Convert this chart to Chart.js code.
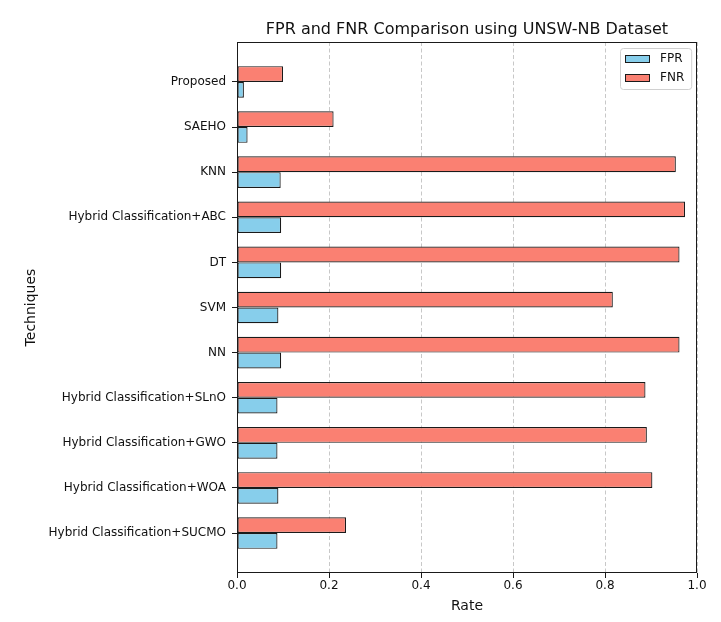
<!DOCTYPE html>
<html>
<head>
<meta charset="utf-8">
<title>FPR and FNR Comparison</title>
<script src="https://cdn.jsdelivr.net/npm/chart.js@4.4.1/dist/chart.umd.min.js"></script>
<style>
    html, body { margin: 0; padding: 0; background: #fff; }
    #wrap { width: 721px; height: 622px; position: relative; }
</style>
</head>
<body>
<div id="wrap"><canvas id="rateChart"></canvas></div>
<script>
// Techniques, top to bottom as in the figure
const techniques = [
    'Proposed',
    'SAEHO',
    'KNN',
    'Hybrid Classification+ABC',
    'DT',
    'SVM',
    'NN',
    'Hybrid Classification+SLnO',
    'Hybrid Classification+GWO',
    'Hybrid Classification+WOA',
    'Hybrid Classification+SUCMO'
];

const fprValues = [0.015, 0.023, 0.095, 0.096, 0.096, 0.090, 0.096, 0.088, 0.088, 0.090, 0.088];
const fnrValues = [0.100, 0.210, 0.954, 0.974, 0.962, 0.817, 0.962, 0.888, 0.891, 0.903, 0.237];

const rateTicks = [0.0, 0.2, 0.4, 0.6, 0.8, 1.0];

const FONT = '"DejaVu Sans", Verdana, sans-serif';
const fprColor = '#87CEEB'; // skyblue
const fnrColor = '#FA8072'; // salmon
const edgeColor = '#1a1a1a';

// bars sit on a linear index axis so the category spacing matches the figure
function toPoints(values) {
    return values.map((v, i) => ({ x: v, y: i }));
}

// box around the plot (all four spines)
const frame = {
    id: 'frame',
    afterDraw(chart) {
        const { ctx, chartArea: a } = chart;
        ctx.save();
        ctx.strokeStyle = edgeColor;
        ctx.lineWidth = 1;
        ctx.strokeRect(Math.round(a.left) + 0.5, Math.round(a.top) + 0.5,
            Math.round(a.right - a.left) - 1, Math.round(a.bottom - a.top) - 1);
        ctx.restore();
    }
};

// legend inside the plot, upper right
const boxLegend = {
    id: 'boxLegend',
    afterDatasetsDraw(chart) {
        const { ctx, chartArea } = chart;
        const items = [
            { label: 'FPR', color: fprColor },
            { label: 'FNR', color: fnrColor }
        ];
        ctx.save();
        ctx.font = '12px ' + FONT;
        const textW = Math.max(...items.map(it => ctx.measureText(it.label).width));
        const w = 5 + 25 + 10 + textW + 7;
        const h = 41;
        const x = Math.round(chartArea.right - 6 - w);
        const y = Math.round(chartArea.top + 6);

        ctx.beginPath();
        ctx.roundRect(x + 0.5, y + 0.5, w, h, 3);
        ctx.fillStyle = 'rgba(255,255,255,0.8)';
        ctx.fill();
        ctx.strokeStyle = '#d0d0d0';
        ctx.lineWidth = 1;
        ctx.stroke();

        items.forEach((it, i) => {
            const cy = Math.round(y + 11 + i * 18.5);
            ctx.fillStyle = it.color;
            ctx.fillRect(x + 5, cy - 4, 25, 8);
            ctx.strokeStyle = edgeColor;
            ctx.strokeRect(x + 5.5, cy - 3.5, 24, 7);
            ctx.fillStyle = '#111';
            ctx.textBaseline = 'middle';
            ctx.fillText(it.label, x + 40, cy);
        });
        ctx.restore();
    }
};

const ctx = document.getElementById('rateChart').getContext('2d');
const rateChart = new Chart(ctx, {
    type: 'bar',
    data: {
        datasets: [
            {
                label: 'FNR',
                data: toPoints(fnrValues),
                backgroundColor: fnrColor,
                borderColor: edgeColor,
                borderWidth: 1.2,
                borderSkipped: false
            },
            {
                label: 'FPR',
                data: toPoints(fprValues),
                backgroundColor: fprColor,
                borderColor: edgeColor,
                borderWidth: 1.2,
                borderSkipped: false
            }
        ]
    },
    options: {
        indexAxis: 'y',
        responsive: true,
        maintainAspectRatio: false,
        animation: false,
        categoryPercentage: 0.7,
        barPercentage: 1.0,
        layout: { padding: { left: 0, right: 24, top: 0, bottom: 0 } },
        plugins: {
            legend: { display: false },
            tooltip: { enabled: false },
            title: {
                display: true,
                text: 'FPR and FNR Comparison using UNSW-NB Dataset',
                fullSize: false,
                color: '#111',
                font: { family: FONT, size: 16, weight: 'normal' },
                padding: { top: 20, bottom: 2.8 }
            }
        },
        scales: {
            x: {
                type: 'linear',
                min: 0,
                max: 1,
                afterFit(scale) { scale.height = 49; },
                afterBuildTicks(scale) { scale.ticks = rateTicks.map(v => ({ value: v })); },
                ticks: {
                    color: '#111',
                    padding: 1,
                    font: { family: FONT, size: 12 },
                    callback: v => Number(v).toFixed(1)
                },
                grid: {
                    color: '#c8c8c8',
                    lineWidth: 1,
                    drawTicks: true,
                    tickLength: 5,
                    tickColor: edgeColor,
                    tickWidth: 1,
                    tickBorderDash: []
                },
                border: { display: false, dash: [4, 2.5] },
                title: {
                    display: true,
                    text: 'Rate',
                    color: '#111',
                    font: { family: FONT, size: 14 },
                    padding: { top: 0, bottom: 7 }
                }
            },
            y: {
                type: 'linear',
                reverse: true,
                offset: false,
                min: -0.885,
                max: techniques.length - 1 + 0.885,
                afterFit(scale) { scale.width = 237; },
                afterBuildTicks(scale) { scale.ticks = techniques.map((t, i) => ({ value: i })); },
                ticks: {
                    autoSkip: false,
                    color: '#111',
                    padding: 6,
                    font: { family: FONT, size: 12 },
                    callback: v => techniques[v]
                },
                grid: {
                    offset: false,
                    drawOnChartArea: false,
                    drawTicks: true,
                    tickLength: 5,
                    tickColor: edgeColor,
                    tickWidth: 1
                },
                border: { display: false },
                title: {
                    display: true,
                    text: 'Techniques',
                    color: '#111',
                    font: { family: FONT, size: 14 },
                    padding: { top: 22.6, bottom: 0 }
                }
            }
        }
    },
    plugins: [boxLegend, frame]
});
</script>
</body>
</html>
